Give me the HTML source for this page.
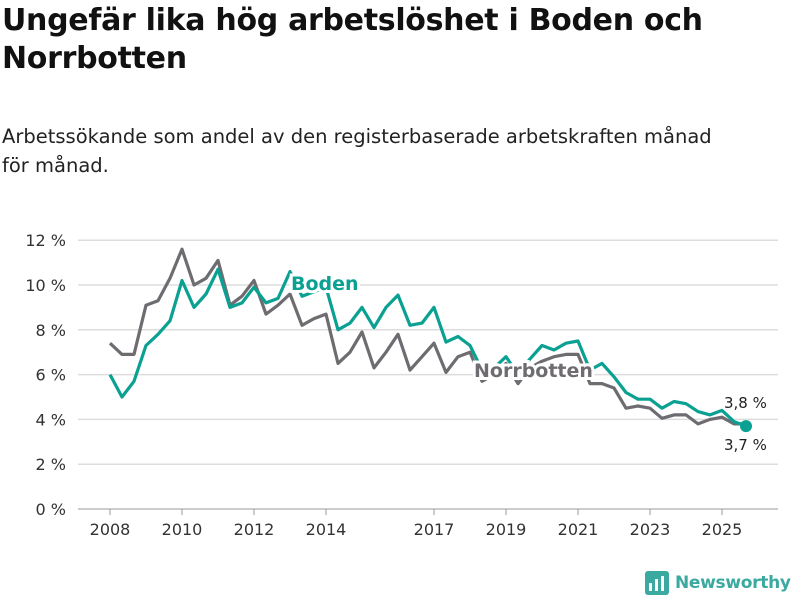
<!DOCTYPE html>
<html><head><meta charset="utf-8"><style>
body{margin:0;width:800px;height:600px;background:#fff;font-family:"Liberation Sans","DejaVu Sans",sans-serif;overflow:hidden;position:relative}
h1{position:absolute;left:2px;top:2px;margin:0;font-family:"DejaVu Sans",sans-serif;font-size:30px;line-height:38px;font-weight:bold;color:#111;width:795px;letter-spacing:-0.3px}
.sub{position:absolute;left:2px;top:122px;font-family:"DejaVu Sans",sans-serif;font-size:19.5px;line-height:29px;color:#222;width:740px}
svg{position:absolute;left:0;top:0}
</style></head><body>
<h1>Ungefär lika hög arbetslöshet i Boden och Norrbotten</h1>
<div class="sub">Arbetssökande som andel av den registerbaserade arbetskraften månad för månad.</div>
<svg id="chart" width="800" height="600"></svg>
<script>
const startYear=2008, step=1/3;
const yTicks=[0,2,4,6,8,10,12];
const yTickLabels=["0 %","2 %","4 %","6 %","8 %","10 %","12 %"];
const xTicks=[2008,2010,2012,2014,2017,2019,2021,2023,2025];
const norrbotten=[7.4,6.9,6.9,9.1,9.3,10.3,11.6,10.0,10.3,11.1,9.1,9.5,10.2,8.7,9.1,9.6,8.2,8.5,8.7,6.5,7.0,7.9,6.3,7.0,7.8,6.2,6.8,7.4,6.1,6.8,7.0,5.7,6.0,6.5,5.6,6.3,6.6,6.8,6.9,6.9,5.6,5.6,5.4,4.5,4.6,4.5,4.05,4.2,4.2,3.8,4.0,4.1,3.8,3.8];
const boden=[6.0,5.0,5.7,7.3,7.8,8.4,10.2,9.0,9.6,10.7,9.0,9.2,9.9,9.2,9.4,10.6,9.5,9.7,9.9,8.0,8.3,9.0,8.1,9.0,9.55,8.2,8.3,9.0,7.45,7.7,7.3,6.2,6.3,6.8,6.0,6.7,7.3,7.1,7.4,7.5,6.2,6.5,5.9,5.2,4.9,4.9,4.5,4.8,4.7,4.35,4.2,4.4,3.9,3.7];
const NS="http://www.w3.org/2000/svg";
const svg=document.getElementById('chart');
const X=y=>110+(y-2008)*36;
const Y=v=>509-22.4*v;
function el(t,a){const e=document.createElementNS(NS,t);for(const k in a)e.setAttribute(k,a[k]);svg.appendChild(e);return e;}
yTicks.forEach((v,i)=>{
 const g=el('line',{x1:78,x2:778,y1:Y(v),y2:Y(v),stroke:v===0?'#bbb':'#ddd','stroke-width':1.5});
 
 
 const t=el('text',{x:66,y:Y(v)+6,'text-anchor':'end','font-size':16,fill:'#333','font-family':'DejaVu Sans, sans-serif'});
 t.textContent=yTickLabels[i];
 
 
});
xTicks.forEach(yr=>{
 const l=el('line',{x1:X(yr),x2:X(yr),y1:509,y2:515,stroke:'#999'});
 
 
 const t=el('text',{x:X(yr),y:535,'text-anchor':'middle','font-size':16,fill:'#333','font-family':'DejaVu Sans, sans-serif'});
 t.textContent=yr;
 
 
});
function line(d,c,name){
 const p=d.map((v,i)=>(i?'L':'M')+X(startYear+i*step).toFixed(1)+','+Y(v).toFixed(1)).join('');
 const e=el('path',{d:p,fill:'none',stroke:c,'stroke-width':3.2,'stroke-linejoin':'round'});
 
 
}
line(norrbotten,'#6e6c71','norrbotten-line');
line(boden,'#0aa092','boden-line');
function lab(txt,x,y,c,name){
 const t=el('text',{x:x,y:y,'font-size':19,'font-weight':'bold',fill:c,'font-family':'DejaVu Sans, sans-serif',stroke:'#fff','stroke-width':6,'paint-order':'stroke'});
 t.textContent=txt;
 
 
}
lab('Boden',291,290,'#0aa092','boden-label');
lab('Norrbotten',474,377,'#6e6c71','norrbotten-label');
const li=boden.length-1;
const dot=el('circle',{cx:X(startYear+li*step),cy:Y(boden[li]),r:6,fill:'#0aa092'});


[['3,8 %',408,'norrbotten-end-value'],['3,7 %',450,'boden-end-value']].forEach(a=>{
 const t=el('text',{x:724,y:a[1],'font-size':15,fill:'#222','font-family':'DejaVu Sans, sans-serif'});
 t.textContent=a[0];
 
 
});
</script>
<div style="position:absolute;left:645px;top:571px;display:flex;align-items:center;gap:6px">
<svg width="24" height="24" style="position:static"><rect x="0" y="0" width="24" height="24" rx="3" fill="#3aa99f"/><rect x="4" y="12" width="3" height="8" fill="#fff"/><rect x="10" y="8" width="3" height="12" fill="#fff"/><rect x="16" y="5" width="3" height="15" fill="#fff"/></svg>
<span style="font-family:'DejaVu Sans',sans-serif;font-weight:bold;font-size:17px;color:#3aa99f;letter-spacing:-0.3px">Newsworthy</span></div>
</body></html>
